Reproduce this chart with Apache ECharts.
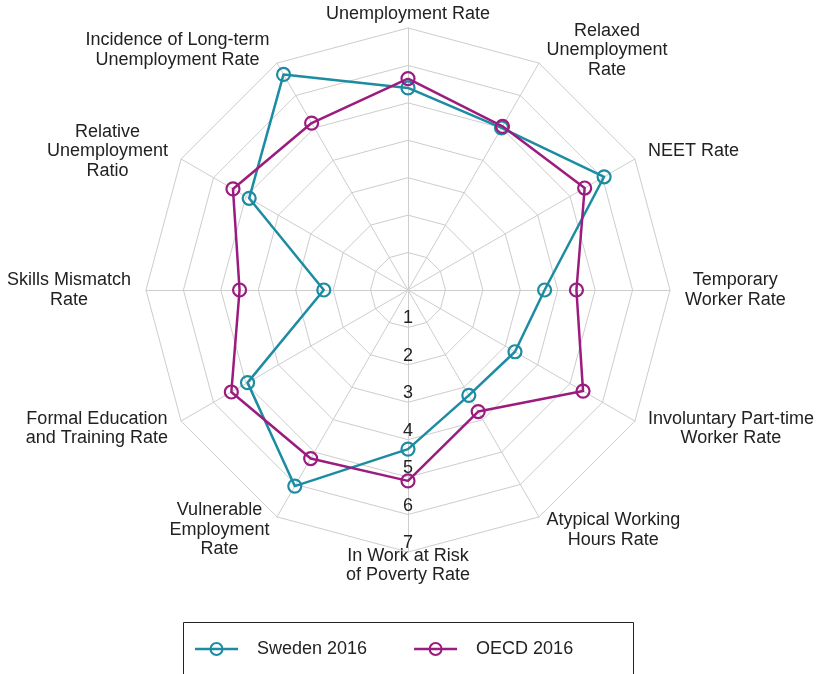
<!DOCTYPE html>
<html>
<head>
<meta charset="utf-8">
<script src="https://cdn.jsdelivr.net/npm/echarts@6/dist/echarts.min.js"></script>
<style>
    html, body { margin: 0; padding: 0; background: #fff; }
    #chart { width: 818px; height: 674px; }
</style>
</head>
<body>
<div id="chart"></div>
<script>
// indicators, clockwise from the top
var indicators = [
    'Unemployment Rate',
    'Relaxed\nUnemployment\nRate',
    'NEET Rate',
    'Temporary\nWorker Rate',
    'Involuntary Part-time\nWorker Rate',
    'Atypical Working\nHours Rate',
    'In Work at Risk\nof Poverty Rate',
    'Vulnerable\nEmployment\nRate',
    'Formal Education\nand Training Rate',
    'Skills Mismatch\nRate',
    'Relative\nUnemployment\nRatio',
    'Incidence of Long-term\nUnemployment Rate'
];
var sweden2016 = [5.4, 5.0, 6.05, 3.65, 3.3, 3.25, 4.25, 6.05, 4.95, 2.25, 4.9, 6.65];
var oecd2016 = [5.65, 5.05, 5.45, 4.5, 5.4, 3.75, 5.1, 5.2, 5.45, 4.5, 5.4, 5.15];
var ringLabels = ['1', '2', '3', '4', '5', '6', '7'];
var seriesNames = ['Sweden 2016', 'OECD 2016'];

var baseColor = ['#1b8ca2', '#9b1b7f'];
var textColor = '#222';
var gridColor = '#cdcdcd';
var font = 'Liberation Sans, Arial, sans-serif';
var fontSize = 18;

var cx = 408, cy = 290, R = 262;

// echarts radar goes counter-clockwise, so flip everything after the first axis
function ccw(arr) {
    return [arr[0]].concat(arr.slice(1).reverse());
}

var indicatorOpt = ccw(indicators).map(function (name, i) {
    var d = { name: name, min: 0, max: ringLabels.length };
    if (i === 6) d.axisLabel = { show: true }; // bottom axis carries the numbers
    return d;
});

// legend icon: a line through an open circle (43 x 14)
var legendIcon = 'path://M0,5.7 L43,5.7 L43,8.3 L0,8.3 Z ' +
    'M14.5,7 A7,7 0 1,1 28.5,7 A7,7 0 1,1 14.5,7 Z ' +
    'M16.6,7 A4.9,4.9 0 1,0 26.4,7 A4.9,4.9 0 1,0 16.6,7 Z';

// axis names, placed round the outer ring
var nameLabels = indicators.map(function (name, k) {
    var theta = k * Math.PI * 2 / indicators.length;
    var sin = Math.sin(theta), cos = Math.cos(theta);
    var x, y, align, vAlign;
    if (k === 0) {
        x = cx; y = cy - R - 4; align = 'center'; vAlign = 'bottom';
    } else if (k === indicators.length / 2) {
        x = cx; y = cy + R - 6; align = 'center'; vAlign = 'top';
    } else {
        x = cx + (R + 15) * sin;
        y = cy - (R + 15) * cos;
        align = sin > 0 ? 'left' : 'right';
        vAlign = 'middle';
    }
    return {
        type: 'text',
        x: x,
        y: y,
        style: {
            text: name.split('\n').map(function (l) { return '{c|' + l + '}'; }).join('\n'),
            align: align,
            verticalAlign: vAlign,
            fill: textColor,
            fontSize: fontSize,
            fontFamily: font,
            rich: {
                c: { align: 'center', lineHeight: 19.5, fontSize: fontSize, fontFamily: font, fill: textColor }
            }
        }
    };
});

var chart = echarts.init(document.getElementById('chart'));

var option = {
    backgroundColor: '#fff',
    animation: false,
    radar: {
        center: [cx, cy],
        radius: R,
        startAngle: 90,
        splitNumber: ringLabels.length,
        shape: 'polygon',
        axisName: { show: false },
        splitLine: { lineStyle: { color: gridColor, width: 1 } },
        splitArea: { show: false },
        axisLine: { lineStyle: { color: gridColor, width: 1 } },
        axisTick: { show: false },
        axisLabel: {
            show: false,
            margin: 0,
            align: 'center',
            verticalAlign: 'bottom',
            color: textColor,
            fontSize: fontSize,
            fontFamily: font,
            formatter: function (v) {
                return v > 0 ? ringLabels[Math.round(v) - 1] : '';
            }
        },
        indicator: indicatorOpt
    },
    legend: {
        left: 190,
        top: 635,
        itemWidth: 43,
        itemHeight: 14,
        itemGap: 47,
        selectedMode: false,
        itemStyle: { borderWidth: 0 },
        textStyle: { fontSize: fontSize, fontFamily: font, color: textColor, padding: [0, 0, 0, 14] },
        data: seriesNames.map(function (n, i) {
            return { name: n, icon: legendIcon, itemStyle: { color: baseColor[i], borderWidth: 0 } };
        })
    },
    graphic: [{
        type: 'rect',
        shape: { x: 183.5, y: 622.5, width: 450, height: 80 },
        style: { fill: 'none', stroke: '#222', lineWidth: 1 }
    }].concat(nameLabels),
    series: [{
        type: 'radar',
        symbol: 'circle',
        symbolSize: 13,
        data: [sweden2016, oecd2016].map(function (vals, i) {
            return {
                name: seriesNames[i],
                value: ccw(vals),
                lineStyle: { color: baseColor[i], width: 2.5 },
                itemStyle: { color: 'rgba(255,255,255,0)', borderColor: baseColor[i], borderWidth: 2.2 }
            };
        })
    }]
};

chart.setOption(option);
</script>
</body>
</html>
